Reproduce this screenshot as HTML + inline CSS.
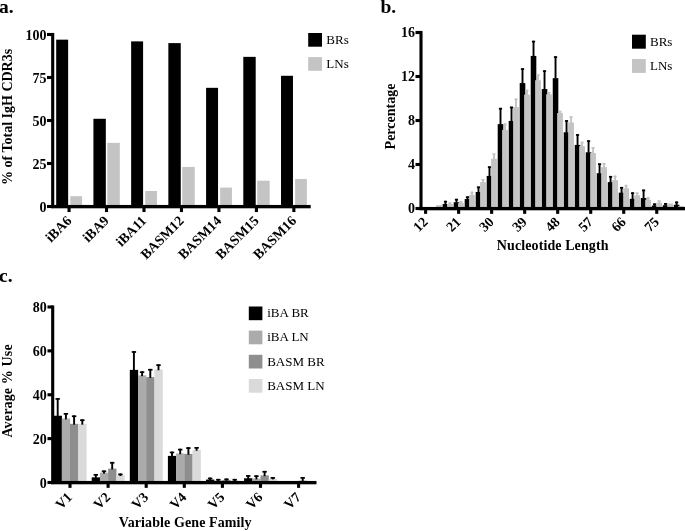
<!DOCTYPE html>
<html><head><meta charset="utf-8"><title>Figure</title>
<style>
html,body{margin:0;padding:0;background:#fff;}
body{width:685px;height:531px;overflow:hidden;font-family:"Liberation Serif",serif;}
svg{display:block;will-change:transform;transform:translateZ(0);}
svg text{font-family:"Liberation Serif",serif;fill:#000;}
</style></head><body>
<svg width="685" height="531" viewBox="0 0 685 531">
<rect x="0" y="0" width="685" height="531" fill="#fff"/>
<text x="-1" y="12.5" font-size="19.5" font-weight="bold" text-anchor="start">a.</text>
<rect x="56.2" y="39.66" width="11.95" height="166.84" fill="#000"/>
<rect x="70.3" y="196.18" width="11.75" height="10.32" fill="#c4c4c4"/>
<rect x="93.42" y="118.78" width="12.4" height="87.72" fill="#000"/>
<rect x="107.32" y="142.86" width="12.5" height="63.64" fill="#c4c4c4"/>
<rect x="131.14" y="41.38" width="11.95" height="165.12" fill="#000"/>
<rect x="145.24" y="191.02" width="11.75" height="15.48" fill="#c4c4c4"/>
<rect x="168.36" y="43.1" width="12.4" height="163.4" fill="#000"/>
<rect x="182.26" y="166.94" width="12.5" height="39.56" fill="#c4c4c4"/>
<rect x="206.08" y="87.82" width="11.95" height="118.68" fill="#000"/>
<rect x="220.18" y="187.58" width="11.75" height="18.92" fill="#c4c4c4"/>
<rect x="243.3" y="56.86" width="12.4" height="149.64" fill="#000"/>
<rect x="257.2" y="180.7" width="12.5" height="25.8" fill="#c4c4c4"/>
<rect x="281.02" y="75.78" width="11.95" height="130.72" fill="#000"/>
<rect x="295.12" y="178.98" width="11.75" height="27.52" fill="#c4c4c4"/>
<rect x="51.15" y="32.95" width="3.1" height="175.1" fill="#000"/>
<rect x="51.15" y="204.95" width="259.55" height="3.35" fill="#000"/>
<rect x="47" y="204.95" width="5.7" height="3.1" fill="#000"/>
<text x="46.5" y="211.7" font-size="14" font-weight="bold" text-anchor="end">0</text>
<rect x="47" y="161.95" width="5.7" height="3.1" fill="#000"/>
<text x="46.5" y="168.7" font-size="14" font-weight="bold" text-anchor="end">25</text>
<rect x="47" y="118.95" width="5.7" height="3.1" fill="#000"/>
<text x="46.5" y="125.7" font-size="14" font-weight="bold" text-anchor="end">50</text>
<rect x="47" y="75.95" width="5.7" height="3.1" fill="#000"/>
<text x="46.5" y="82.7" font-size="14" font-weight="bold" text-anchor="end">75</text>
<rect x="47" y="32.95" width="5.7" height="3.1" fill="#000"/>
<text x="46.5" y="39.7" font-size="14" font-weight="bold" text-anchor="end">100</text>
<rect x="67.5" y="206.5" width="3.1" height="5.55" fill="#000"/>
<text x="72.35" y="221.5" font-size="14" font-weight="bold" text-anchor="end" transform="rotate(-45 72.35 221.5)">iBA6</text>
<rect x="104.97" y="206.5" width="3.1" height="5.55" fill="#000"/>
<text x="109.82" y="221.5" font-size="14" font-weight="bold" text-anchor="end" transform="rotate(-45 109.82 221.5)">iBA9</text>
<rect x="142.44" y="206.5" width="3.1" height="5.55" fill="#000"/>
<text x="147.29" y="221.5" font-size="14" font-weight="bold" text-anchor="end" transform="rotate(-45 147.29 221.5)">iBA11</text>
<rect x="179.91" y="206.5" width="3.1" height="5.55" fill="#000"/>
<text x="184.76" y="221.5" font-size="14" font-weight="bold" text-anchor="end" transform="rotate(-45 184.76 221.5)">BASM12</text>
<rect x="217.38" y="206.5" width="3.1" height="5.55" fill="#000"/>
<text x="222.23" y="221.5" font-size="14" font-weight="bold" text-anchor="end" transform="rotate(-45 222.23 221.5)">BASM14</text>
<rect x="254.85" y="206.5" width="3.1" height="5.55" fill="#000"/>
<text x="259.7" y="221.5" font-size="14" font-weight="bold" text-anchor="end" transform="rotate(-45 259.7 221.5)">BASM15</text>
<rect x="292.32" y="206.5" width="3.1" height="5.55" fill="#000"/>
<text x="297.17" y="221.5" font-size="14" font-weight="bold" text-anchor="end" transform="rotate(-45 297.17 221.5)">BASM16</text>
<text x="11.7" y="116.9" font-size="14" font-weight="bold" text-anchor="middle" transform="rotate(-90 11.7 116.9)">% of Total IgH CDR3s</text>
<rect x="308.2" y="33" width="13.8" height="13.7" fill="#000"/>
<rect x="308.2" y="57.1" width="13.8" height="13.7" fill="#c4c4c4"/>
<text x="326.3" y="43.9" font-size="13" font-weight="normal" text-anchor="start">BRs</text>
<text x="326.3" y="68" font-size="13" font-weight="normal" text-anchor="start">LNs</text>
<text x="380.4" y="12.5" font-size="19.5" font-weight="bold" text-anchor="start">b.</text>
<rect x="436.06" y="205.2" width="5.8" height="3.3" fill="#c4c4c4"/>
<rect x="442.66" y="203.99" width="5.6" height="4.51" fill="#000"/>
<rect x="444.51" y="200.8" width="1.9" height="3.69" fill="#000"/>
<rect x="443.86" y="200.8" width="3.2" height="1.7" fill="#000"/>
<rect x="447.06" y="203.99" width="5.8" height="4.51" fill="#c4c4c4"/>
<rect x="449.01" y="202.23" width="1.9" height="2.26" fill="#c4c4c4"/>
<rect x="448.36" y="202.23" width="3.2" height="1.7" fill="#c4c4c4"/>
<rect x="453.67" y="202.23" width="5.6" height="6.27" fill="#000"/>
<rect x="455.52" y="198.82" width="1.9" height="3.91" fill="#000"/>
<rect x="454.87" y="198.82" width="3.2" height="1.7" fill="#000"/>
<rect x="458.07" y="203.11" width="5.8" height="5.39" fill="#c4c4c4"/>
<rect x="460.02" y="201.02" width="1.9" height="2.59" fill="#c4c4c4"/>
<rect x="459.37" y="201.02" width="3.2" height="1.7" fill="#c4c4c4"/>
<rect x="464.68" y="199.04" width="5.6" height="9.46" fill="#000"/>
<rect x="466.53" y="196.4" width="1.9" height="3.14" fill="#000"/>
<rect x="465.88" y="196.4" width="3.2" height="1.7" fill="#000"/>
<rect x="469.08" y="194.97" width="5.8" height="13.53" fill="#c4c4c4"/>
<rect x="471.03" y="191.67" width="1.9" height="3.8" fill="#c4c4c4"/>
<rect x="470.38" y="191.67" width="3.2" height="1.7" fill="#c4c4c4"/>
<rect x="475.69" y="192" width="5.6" height="16.5" fill="#000"/>
<rect x="477.54" y="186.5" width="1.9" height="6" fill="#000"/>
<rect x="476.89" y="186.5" width="3.2" height="1.7" fill="#000"/>
<rect x="480.09" y="182.1" width="5.8" height="26.4" fill="#c4c4c4"/>
<rect x="482.04" y="179.02" width="1.9" height="3.58" fill="#c4c4c4"/>
<rect x="481.39" y="179.02" width="3.2" height="1.7" fill="#c4c4c4"/>
<rect x="486.69" y="175.94" width="5.6" height="32.56" fill="#000"/>
<rect x="488.54" y="166.37" width="1.9" height="10.07" fill="#000"/>
<rect x="487.89" y="166.37" width="3.2" height="1.7" fill="#000"/>
<rect x="491.09" y="158.78" width="5.8" height="49.72" fill="#c4c4c4"/>
<rect x="493.04" y="153.5" width="1.9" height="5.78" fill="#c4c4c4"/>
<rect x="492.39" y="153.5" width="3.2" height="1.7" fill="#c4c4c4"/>
<rect x="497.7" y="124.13" width="5.6" height="84.37" fill="#000"/>
<rect x="499.55" y="107.85" width="1.9" height="16.78" fill="#000"/>
<rect x="498.9" y="107.85" width="3.2" height="1.7" fill="#000"/>
<rect x="502.1" y="129.96" width="5.8" height="78.54" fill="#c4c4c4"/>
<rect x="504.05" y="123.47" width="1.9" height="6.99" fill="#c4c4c4"/>
<rect x="503.4" y="123.47" width="3.2" height="1.7" fill="#c4c4c4"/>
<rect x="508.71" y="120.94" width="5.6" height="87.56" fill="#000"/>
<rect x="510.56" y="106.64" width="1.9" height="14.8" fill="#000"/>
<rect x="509.91" y="106.64" width="3.2" height="1.7" fill="#000"/>
<rect x="513.11" y="107.08" width="5.8" height="101.42" fill="#c4c4c4"/>
<rect x="515.06" y="98.5" width="1.9" height="9.08" fill="#c4c4c4"/>
<rect x="514.41" y="98.5" width="3.2" height="1.7" fill="#c4c4c4"/>
<rect x="519.71" y="83.1" width="5.6" height="125.4" fill="#000"/>
<rect x="521.56" y="68.25" width="1.9" height="15.35" fill="#000"/>
<rect x="520.91" y="68.25" width="3.2" height="1.7" fill="#000"/>
<rect x="524.11" y="94.65" width="5.8" height="113.85" fill="#c4c4c4"/>
<rect x="526.06" y="89.7" width="1.9" height="5.45" fill="#c4c4c4"/>
<rect x="525.41" y="89.7" width="3.2" height="1.7" fill="#c4c4c4"/>
<rect x="530.72" y="55.93" width="5.6" height="152.57" fill="#000"/>
<rect x="532.57" y="40.75" width="1.9" height="15.68" fill="#000"/>
<rect x="531.92" y="40.75" width="3.2" height="1.7" fill="#000"/>
<rect x="535.12" y="80.24" width="5.8" height="128.26" fill="#c4c4c4"/>
<rect x="537.07" y="74.3" width="1.9" height="6.44" fill="#c4c4c4"/>
<rect x="536.42" y="74.3" width="3.2" height="1.7" fill="#c4c4c4"/>
<rect x="541.73" y="89.04" width="5.6" height="119.46" fill="#000"/>
<rect x="543.58" y="70.34" width="1.9" height="19.2" fill="#000"/>
<rect x="542.93" y="70.34" width="3.2" height="1.7" fill="#000"/>
<rect x="546.13" y="94.32" width="5.8" height="114.18" fill="#c4c4c4"/>
<rect x="548.08" y="91.9" width="1.9" height="2.92" fill="#c4c4c4"/>
<rect x="547.43" y="91.9" width="3.2" height="1.7" fill="#c4c4c4"/>
<rect x="552.73" y="78.15" width="5.6" height="130.35" fill="#000"/>
<rect x="554.58" y="56.26" width="1.9" height="22.39" fill="#000"/>
<rect x="553.93" y="56.26" width="3.2" height="1.7" fill="#000"/>
<rect x="557.13" y="113.02" width="5.8" height="95.48" fill="#c4c4c4"/>
<rect x="559.08" y="110.82" width="1.9" height="2.7" fill="#c4c4c4"/>
<rect x="558.43" y="110.82" width="3.2" height="1.7" fill="#c4c4c4"/>
<rect x="563.74" y="132.27" width="5.6" height="76.23" fill="#000"/>
<rect x="565.59" y="120.17" width="1.9" height="12.6" fill="#000"/>
<rect x="564.94" y="120.17" width="3.2" height="1.7" fill="#000"/>
<rect x="568.14" y="122.48" width="5.8" height="86.02" fill="#c4c4c4"/>
<rect x="570.09" y="116.32" width="1.9" height="6.66" fill="#c4c4c4"/>
<rect x="569.44" y="116.32" width="3.2" height="1.7" fill="#c4c4c4"/>
<rect x="574.75" y="144.92" width="5.6" height="63.58" fill="#000"/>
<rect x="576.6" y="134.14" width="1.9" height="11.28" fill="#000"/>
<rect x="575.95" y="134.14" width="3.2" height="1.7" fill="#000"/>
<rect x="579.15" y="146.13" width="5.8" height="62.37" fill="#c4c4c4"/>
<rect x="581.1" y="141.73" width="1.9" height="4.9" fill="#c4c4c4"/>
<rect x="580.45" y="141.73" width="3.2" height="1.7" fill="#c4c4c4"/>
<rect x="585.75" y="152.29" width="5.6" height="56.21" fill="#000"/>
<rect x="587.61" y="140.3" width="1.9" height="12.49" fill="#000"/>
<rect x="586.96" y="140.3" width="3.2" height="1.7" fill="#000"/>
<rect x="590.16" y="153.06" width="5.8" height="55.44" fill="#c4c4c4"/>
<rect x="592.11" y="147.01" width="1.9" height="6.55" fill="#c4c4c4"/>
<rect x="591.46" y="147.01" width="3.2" height="1.7" fill="#c4c4c4"/>
<rect x="596.76" y="173.19" width="5.6" height="35.31" fill="#000"/>
<rect x="598.61" y="163.4" width="1.9" height="10.29" fill="#000"/>
<rect x="597.96" y="163.4" width="3.2" height="1.7" fill="#000"/>
<rect x="601.16" y="167.14" width="5.8" height="41.36" fill="#c4c4c4"/>
<rect x="603.11" y="163.07" width="1.9" height="4.57" fill="#c4c4c4"/>
<rect x="602.46" y="163.07" width="3.2" height="1.7" fill="#c4c4c4"/>
<rect x="607.77" y="182.1" width="5.6" height="26.4" fill="#000"/>
<rect x="609.62" y="175.94" width="1.9" height="6.66" fill="#000"/>
<rect x="608.97" y="175.94" width="3.2" height="1.7" fill="#000"/>
<rect x="612.17" y="180.12" width="5.8" height="28.38" fill="#c4c4c4"/>
<rect x="614.12" y="175.61" width="1.9" height="5.01" fill="#c4c4c4"/>
<rect x="613.47" y="175.61" width="3.2" height="1.7" fill="#c4c4c4"/>
<rect x="618.78" y="192.66" width="5.6" height="15.84" fill="#000"/>
<rect x="620.63" y="186.94" width="1.9" height="6.22" fill="#000"/>
<rect x="619.98" y="186.94" width="3.2" height="1.7" fill="#000"/>
<rect x="623.18" y="188.26" width="5.8" height="20.24" fill="#c4c4c4"/>
<rect x="625.13" y="184.85" width="1.9" height="3.91" fill="#c4c4c4"/>
<rect x="624.48" y="184.85" width="3.2" height="1.7" fill="#c4c4c4"/>
<rect x="629.78" y="198.82" width="5.6" height="9.68" fill="#000"/>
<rect x="631.63" y="192.33" width="1.9" height="6.99" fill="#000"/>
<rect x="630.98" y="192.33" width="3.2" height="1.7" fill="#000"/>
<rect x="634.18" y="195.3" width="5.8" height="13.2" fill="#c4c4c4"/>
<rect x="636.13" y="192.33" width="1.9" height="3.47" fill="#c4c4c4"/>
<rect x="635.48" y="192.33" width="3.2" height="1.7" fill="#c4c4c4"/>
<rect x="640.79" y="198.05" width="5.6" height="10.45" fill="#000"/>
<rect x="642.64" y="189.58" width="1.9" height="8.97" fill="#000"/>
<rect x="641.99" y="189.58" width="3.2" height="1.7" fill="#000"/>
<rect x="645.19" y="199.7" width="5.8" height="8.8" fill="#c4c4c4"/>
<rect x="647.14" y="197.28" width="1.9" height="2.92" fill="#c4c4c4"/>
<rect x="646.49" y="197.28" width="3.2" height="1.7" fill="#c4c4c4"/>
<rect x="651.8" y="205.53" width="5.6" height="2.97" fill="#000"/>
<rect x="653.65" y="203.44" width="1.9" height="2.59" fill="#000"/>
<rect x="653" y="203.44" width="3.2" height="1.7" fill="#000"/>
<rect x="656.2" y="202.67" width="5.8" height="5.83" fill="#c4c4c4"/>
<rect x="658.15" y="200.36" width="1.9" height="2.81" fill="#c4c4c4"/>
<rect x="657.5" y="200.36" width="3.2" height="1.7" fill="#c4c4c4"/>
<rect x="662.8" y="205.2" width="5.6" height="3.3" fill="#000"/>
<rect x="664.65" y="203" width="1.9" height="2.7" fill="#000"/>
<rect x="664" y="203" width="3.2" height="1.7" fill="#000"/>
<rect x="667.2" y="203.55" width="5.8" height="4.95" fill="#c4c4c4"/>
<rect x="673.81" y="204.76" width="5.6" height="3.74" fill="#000"/>
<rect x="675.66" y="201.57" width="1.9" height="3.69" fill="#000"/>
<rect x="675.01" y="201.57" width="3.2" height="1.7" fill="#000"/>
<rect x="678.21" y="206.08" width="5.8" height="2.42" fill="#c4c4c4"/>
<rect x="419.45" y="30.95" width="3.1" height="179.1" fill="#000"/>
<rect x="419.45" y="206.95" width="265.55" height="3.35" fill="#000"/>
<rect x="415.5" y="206.95" width="5.5" height="3.1" fill="#000"/>
<text x="414.9" y="213.4" font-size="14" font-weight="bold" text-anchor="end">0</text>
<rect x="415.5" y="162.95" width="5.5" height="3.1" fill="#000"/>
<text x="414.9" y="169.4" font-size="14" font-weight="bold" text-anchor="end">4</text>
<rect x="415.5" y="118.95" width="5.5" height="3.1" fill="#000"/>
<text x="414.9" y="125.4" font-size="14" font-weight="bold" text-anchor="end">8</text>
<rect x="415.5" y="74.95" width="5.5" height="3.1" fill="#000"/>
<text x="414.9" y="81.4" font-size="14" font-weight="bold" text-anchor="end">12</text>
<rect x="415.5" y="30.95" width="5.5" height="3.1" fill="#000"/>
<text x="414.9" y="37.4" font-size="14" font-weight="bold" text-anchor="end">16</text>
<rect x="424.05" y="208.5" width="3.1" height="5.35" fill="#000"/>
<text x="428.7" y="222.7" font-size="14" font-weight="bold" text-anchor="end" transform="rotate(-45 428.7 222.7)">12</text>
<rect x="457.07" y="208.5" width="3.1" height="5.35" fill="#000"/>
<text x="461.72" y="222.7" font-size="14" font-weight="bold" text-anchor="end" transform="rotate(-45 461.72 222.7)">21</text>
<rect x="490.09" y="208.5" width="3.1" height="5.35" fill="#000"/>
<text x="494.74" y="222.7" font-size="14" font-weight="bold" text-anchor="end" transform="rotate(-45 494.74 222.7)">30</text>
<rect x="523.11" y="208.5" width="3.1" height="5.35" fill="#000"/>
<text x="527.76" y="222.7" font-size="14" font-weight="bold" text-anchor="end" transform="rotate(-45 527.76 222.7)">39</text>
<rect x="556.13" y="208.5" width="3.1" height="5.35" fill="#000"/>
<text x="560.78" y="222.7" font-size="14" font-weight="bold" text-anchor="end" transform="rotate(-45 560.78 222.7)">48</text>
<rect x="589.16" y="208.5" width="3.1" height="5.35" fill="#000"/>
<text x="593.81" y="222.7" font-size="14" font-weight="bold" text-anchor="end" transform="rotate(-45 593.81 222.7)">57</text>
<rect x="622.18" y="208.5" width="3.1" height="5.35" fill="#000"/>
<text x="626.83" y="222.7" font-size="14" font-weight="bold" text-anchor="end" transform="rotate(-45 626.83 222.7)">66</text>
<rect x="655.2" y="208.5" width="3.1" height="5.35" fill="#000"/>
<text x="659.85" y="222.7" font-size="14" font-weight="bold" text-anchor="end" transform="rotate(-45 659.85 222.7)">75</text>
<text x="394.9" y="116.5" font-size="14" font-weight="bold" text-anchor="middle" transform="rotate(-90 394.9 116.5)">Percentage</text>
<text x="552.7" y="249.5" font-size="14" font-weight="bold" text-anchor="middle" letter-spacing="0.1">Nucleotide Length</text>
<rect x="632" y="34.7" width="13.8" height="14" fill="#000"/>
<rect x="632" y="59" width="13.8" height="13.9" fill="#c4c4c4"/>
<text x="650" y="46.2" font-size="13" font-weight="normal" text-anchor="start">BRs</text>
<text x="650" y="70.2" font-size="13" font-weight="normal" text-anchor="start">LNs</text>
<text x="-1" y="282.4" font-size="19.5" font-weight="bold" text-anchor="start">c.</text>
<rect x="53.6" y="415.73" width="8.35" height="66.77" fill="#000"/>
<rect x="61.8" y="418.58" width="8.35" height="63.92" fill="#ababab"/>
<rect x="70" y="423.85" width="8.35" height="58.65" fill="#8e8e8e"/>
<rect x="78.2" y="423.85" width="8.35" height="58.65" fill="#dadada"/>
<rect x="56.75" y="398.08" width="1.9" height="18.45" fill="#000"/>
<rect x="55.5" y="398.08" width="4.4" height="1.7" fill="#000"/>
<rect x="64.95" y="413" width="1.9" height="6.38" fill="#000"/>
<rect x="63.7" y="413" width="4.4" height="1.7" fill="#000"/>
<rect x="73.15" y="415.41" width="1.9" height="9.24" fill="#000"/>
<rect x="71.9" y="415.41" width="4.4" height="1.7" fill="#000"/>
<rect x="81.35" y="419.36" width="1.9" height="5.29" fill="#000"/>
<rect x="80.1" y="419.36" width="4.4" height="1.7" fill="#000"/>
<rect x="91.7" y="477.37" width="8.35" height="5.13" fill="#000"/>
<rect x="99.9" y="472.77" width="8.35" height="9.73" fill="#ababab"/>
<rect x="108.1" y="468.6" width="8.35" height="13.9" fill="#8e8e8e"/>
<rect x="116.3" y="475.18" width="8.35" height="7.32" fill="#dadada"/>
<rect x="94.85" y="473.98" width="1.9" height="4.19" fill="#000"/>
<rect x="93.6" y="473.98" width="4.4" height="1.7" fill="#000"/>
<rect x="103.05" y="470.47" width="1.9" height="3.09" fill="#000"/>
<rect x="101.8" y="470.47" width="4.4" height="1.7" fill="#000"/>
<rect x="111.25" y="461.92" width="1.9" height="7.48" fill="#000"/>
<rect x="110" y="461.92" width="4.4" height="1.7" fill="#000"/>
<rect x="119.45" y="473.54" width="1.9" height="2.44" fill="#000"/>
<rect x="118.2" y="473.54" width="4.4" height="1.7" fill="#000"/>
<rect x="129.8" y="369.88" width="8.35" height="112.62" fill="#000"/>
<rect x="138" y="375.36" width="8.35" height="107.14" fill="#ababab"/>
<rect x="146.2" y="377.12" width="8.35" height="105.38" fill="#8e8e8e"/>
<rect x="154.4" y="369.44" width="8.35" height="113.06" fill="#dadada"/>
<rect x="132.95" y="351.13" width="1.9" height="19.55" fill="#000"/>
<rect x="131.7" y="351.13" width="4.4" height="1.7" fill="#000"/>
<rect x="141.15" y="371.32" width="1.9" height="4.85" fill="#000"/>
<rect x="139.9" y="371.32" width="4.4" height="1.7" fill="#000"/>
<rect x="149.35" y="368.9" width="1.9" height="9.02" fill="#000"/>
<rect x="148.1" y="368.9" width="4.4" height="1.7" fill="#000"/>
<rect x="157.55" y="364.3" width="1.9" height="5.95" fill="#000"/>
<rect x="156.3" y="364.3" width="4.4" height="1.7" fill="#000"/>
<rect x="167.9" y="455.88" width="8.35" height="26.62" fill="#000"/>
<rect x="176.1" y="453.46" width="8.35" height="29.04" fill="#ababab"/>
<rect x="184.3" y="453.9" width="8.35" height="28.6" fill="#8e8e8e"/>
<rect x="192.5" y="449.95" width="8.35" height="32.55" fill="#dadada"/>
<rect x="171.05" y="451.61" width="1.9" height="5.07" fill="#000"/>
<rect x="169.8" y="451.61" width="4.4" height="1.7" fill="#000"/>
<rect x="179.25" y="448.75" width="1.9" height="5.51" fill="#000"/>
<rect x="178" y="448.75" width="4.4" height="1.7" fill="#000"/>
<rect x="187.45" y="447.22" width="1.9" height="7.48" fill="#000"/>
<rect x="186.2" y="447.22" width="4.4" height="1.7" fill="#000"/>
<rect x="195.65" y="447" width="1.9" height="3.75" fill="#000"/>
<rect x="194.4" y="447" width="4.4" height="1.7" fill="#000"/>
<rect x="206" y="479.57" width="8.35" height="2.93" fill="#000"/>
<rect x="214.2" y="480.44" width="8.35" height="2.06" fill="#ababab"/>
<rect x="222.4" y="480.01" width="8.35" height="2.49" fill="#8e8e8e"/>
<rect x="230.6" y="480.44" width="8.35" height="2.06" fill="#dadada"/>
<rect x="209.15" y="477.6" width="1.9" height="2.76" fill="#000"/>
<rect x="207.9" y="477.6" width="4.4" height="1.7" fill="#000"/>
<rect x="217.35" y="478.9" width="1.9" height="2.35" fill="#000"/>
<rect x="216.1" y="478.9" width="4.4" height="1.7" fill="#000"/>
<rect x="225.55" y="478.5" width="1.9" height="2.3" fill="#000"/>
<rect x="224.3" y="478.5" width="4.4" height="1.7" fill="#000"/>
<rect x="233.75" y="478.9" width="1.9" height="2.35" fill="#000"/>
<rect x="232.5" y="478.9" width="4.4" height="1.7" fill="#000"/>
<rect x="244.1" y="478.25" width="8.35" height="4.25" fill="#000"/>
<rect x="252.3" y="478.6" width="8.35" height="3.9" fill="#ababab"/>
<rect x="260.5" y="475.4" width="8.35" height="7.1" fill="#8e8e8e"/>
<rect x="268.7" y="478.6" width="8.35" height="3.9" fill="#dadada"/>
<rect x="247.25" y="475.08" width="1.9" height="3.97" fill="#000"/>
<rect x="246" y="475.08" width="4.4" height="1.7" fill="#000"/>
<rect x="255.45" y="475.3" width="1.9" height="4.1" fill="#000"/>
<rect x="254.2" y="475.3" width="4.4" height="1.7" fill="#000"/>
<rect x="263.65" y="470.91" width="1.9" height="5.29" fill="#000"/>
<rect x="262.4" y="470.91" width="4.4" height="1.7" fill="#000"/>
<rect x="271.85" y="477.05" width="1.9" height="2.35" fill="#000"/>
<rect x="270.6" y="477.05" width="4.4" height="1.7" fill="#000"/>
<rect x="298.6" y="480.66" width="8.35" height="1.84" fill="#8e8e8e"/>
<rect x="301.75" y="477.05" width="1.9" height="4.41" fill="#000"/>
<rect x="300.5" y="477.05" width="4.4" height="1.7" fill="#000"/>
<rect x="51.15" y="305.45" width="3.1" height="178.6" fill="#000"/>
<rect x="51.15" y="480.95" width="265.35" height="3.35" fill="#000"/>
<rect x="47.5" y="480.95" width="5.2" height="3.1" fill="#000"/>
<text x="46.7" y="487.7" font-size="14" font-weight="bold" text-anchor="end">0</text>
<rect x="47.5" y="437.07" width="5.2" height="3.1" fill="#000"/>
<text x="46.7" y="443.82" font-size="14" font-weight="bold" text-anchor="end">20</text>
<rect x="47.5" y="393.2" width="5.2" height="3.1" fill="#000"/>
<text x="46.7" y="399.95" font-size="14" font-weight="bold" text-anchor="end">40</text>
<rect x="47.5" y="349.32" width="5.2" height="3.1" fill="#000"/>
<text x="46.7" y="356.07" font-size="14" font-weight="bold" text-anchor="end">60</text>
<rect x="47.5" y="305.45" width="5.2" height="3.1" fill="#000"/>
<text x="46.7" y="312.2" font-size="14" font-weight="bold" text-anchor="end">80</text>
<rect x="68.45" y="482.5" width="3.1" height="5.35" fill="#000"/>
<text x="73" y="498" font-size="14" font-weight="bold" text-anchor="end" transform="rotate(-45 73 498)">V1</text>
<rect x="106.55" y="482.5" width="3.1" height="5.35" fill="#000"/>
<text x="111.1" y="498" font-size="14" font-weight="bold" text-anchor="end" transform="rotate(-45 111.1 498)">V2</text>
<rect x="144.65" y="482.5" width="3.1" height="5.35" fill="#000"/>
<text x="149.2" y="498" font-size="14" font-weight="bold" text-anchor="end" transform="rotate(-45 149.2 498)">V3</text>
<rect x="182.75" y="482.5" width="3.1" height="5.35" fill="#000"/>
<text x="187.3" y="498" font-size="14" font-weight="bold" text-anchor="end" transform="rotate(-45 187.3 498)">V4</text>
<rect x="220.85" y="482.5" width="3.1" height="5.35" fill="#000"/>
<text x="225.4" y="498" font-size="14" font-weight="bold" text-anchor="end" transform="rotate(-45 225.4 498)">V5</text>
<rect x="258.95" y="482.5" width="3.1" height="5.35" fill="#000"/>
<text x="263.5" y="498" font-size="14" font-weight="bold" text-anchor="end" transform="rotate(-45 263.5 498)">V6</text>
<rect x="297.05" y="482.5" width="3.1" height="5.35" fill="#000"/>
<text x="301.6" y="498" font-size="14" font-weight="bold" text-anchor="end" transform="rotate(-45 301.6 498)">V7</text>
<text x="11.8" y="390.9" font-size="14" font-weight="bold" text-anchor="middle" transform="rotate(-90 11.8 390.9)" letter-spacing="0.15">Average % Use</text>
<text x="185.2" y="526.6" font-size="14" font-weight="bold" text-anchor="middle" letter-spacing="0.1">Variable Gene Family</text>
<rect x="248.8" y="306.5" width="13.6" height="13.7" fill="#000"/>
<text x="267.2" y="317.3" font-size="13" font-weight="normal" text-anchor="start">iBA BR</text>
<rect x="248.8" y="330.6" width="13.6" height="13.7" fill="#ababab"/>
<text x="267.2" y="341.4" font-size="13" font-weight="normal" text-anchor="start">iBA LN</text>
<rect x="248.8" y="354.8" width="13.6" height="13.7" fill="#8e8e8e"/>
<text x="267.2" y="365.6" font-size="13" font-weight="normal" text-anchor="start">BASM BR</text>
<rect x="248.8" y="379" width="13.6" height="13.7" fill="#dadada"/>
<text x="267.2" y="389.8" font-size="13" font-weight="normal" text-anchor="start">BASM LN</text>
</svg>
</body></html>
